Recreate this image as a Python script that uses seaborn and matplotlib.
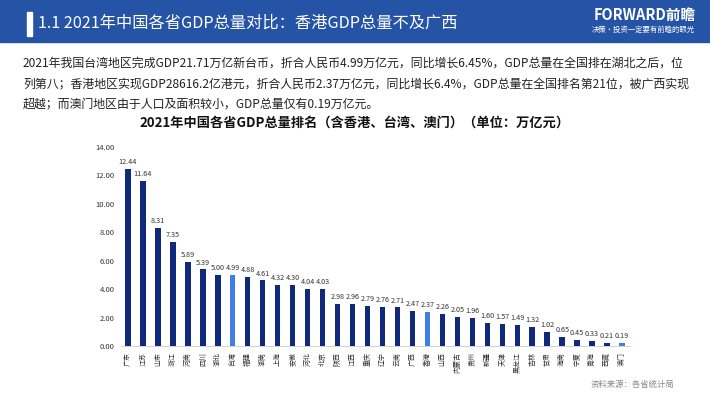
import matplotlib
matplotlib.use("Agg")
import matplotlib.pyplot as plt
import seaborn as sns
import pandas as pd
from matplotlib.patches import Rectangle

provinces = ["广东", "江苏", "山东", "浙江", "河南", "四川", "湖北", "台湾", "福建", "湖南",
             "上海", "安徽", "河北", "北京", "陕西", "江西", "重庆", "辽宁", "云南", "广西",
             "香港", "山西", "内蒙古", "贵州", "新疆", "天津", "黑龙江", "吉林", "甘肃", "海南",
             "宁夏", "青海", "西藏", "澳门"]
gdp = [12.44, 11.64, 8.31, 7.35, 5.89, 5.39, 5.00, 4.99, 4.88, 4.61,
       4.32, 4.30, 4.04, 4.03, 2.98, 2.96, 2.79, 2.76, 2.71, 2.47,
       2.37, 2.26, 2.05, 1.96, 1.60, 1.57, 1.49, 1.32, 1.02, 0.65,
       0.45, 0.33, 0.21, 0.19]
highlight = ["台湾", "香港", "澳门"]
yticks = [0, 2, 4, 6, 8, 10, 12, 14]

sns.set_theme(style="white")
plt.rcParams['font.family'] = ['Noto Sans CJK SC', 'DejaVu Sans']
plt.rcParams['axes.unicode_minus'] = False

dark = "#0f2a7c"
light = "#3f7ee8"
df = pd.DataFrame({"省份": provinces, "GDP": gdp})
df["grp"] = ["hl" if p in highlight else "n" for p in provinces]

fig = plt.figure(figsize=(7.10, 3.99), dpi=100)

# header band
fig.patches.append(Rectangle((0, 1 - 42 / 399), 1, 42 / 399, transform=fig.transFigure,
                             color="#2554a6", zorder=0))
fig.patches.append(Rectangle((27 / 710, 1 - 36 / 399), 5 / 710, 24 / 399, transform=fig.transFigure,
                             color="white", zorder=1))
fig.text(38 / 710, 1 - 23 / 399, "1.1 2021年中国各省GDP总量对比：香港GDP总量不及广西",
         color="white", fontsize=11.7, va="center", ha="left")
fig.text(645 / 710, 1 - 15 / 399, "FORWARD前瞻", color="white", fontsize=10.5,
         fontweight="bold", va="center", ha="center")
fig.text(643 / 710, 1 - 30 / 399, "决策·投资一定要有前瞻的眼光", color="white", fontsize=5.3,
         va="center", ha="center")

para = ["2021年我国台湾地区完成GDP21.71万亿新台币，折合人民币4.99万亿元，同比增长6.45%，GDP总量在全国排在湖北之后，位",
        "列第八；香港地区实现GDP28616.2亿港元，折合人民币2.37万亿元，同比增长6.4%，GDP总量在全国排名第21位，被广西实现",
        "超越；而澳门地区由于人口及面积较小，GDP总量仅有0.19万亿元。"]
for i, line in enumerate(para):
    fig.text(23 / 710, 1 - (63 + i * 21) / 399, line, fontsize=8.6, color="#222222",
             va="center", ha="left")

fig.text(355 / 710, 1 - 123 / 399, "2021年中国各省GDP总量排名（含香港、台湾、澳门）（单位：万亿元）",
         fontsize=9.5, fontweight="bold", color="#111111", va="center", ha="center")

fig.text(632 / 710, 1 - 384 / 399, "资料来源：各省统计局", fontsize=6, color="#888888",
         va="center", ha="center")

ax = fig.add_axes([120.5 / 710, 1 - 346 / 399, 509 / 710, 199 / 399])
sns.barplot(data=df, x="省份", y="GDP", hue="grp", palette={"n": dark, "hl": light},
            width=0.36, dodge=False, legend=False, saturation=1, linewidth=0, ax=ax)
ax.set_ylim(0, 14)
ax.set_xlim(-0.5, len(provinces) - 0.5)
ax.set_yticks(yticks)
ax.set_yticklabels([f"{v:.2f}" for v in yticks], fontsize=5.5, color="#333333")
ax.set_xticks(range(len(provinces)))
ax.set_xticklabels(provinces, rotation=90, fontsize=5, color="#333333")
ax.tick_params(axis="both", length=0, pad=4)
ax.set_xlabel("")
ax.set_ylabel("")
for s in ["top", "right", "left"]:
    ax.spines[s].set_visible(False)
ax.spines["bottom"].set_color("#cccccc")
ax.spines["bottom"].set_linewidth(0.6)
for i, v in enumerate(gdp):
    ax.text(i, v + 0.2, f"{v:.2f}", ha="center", va="bottom", fontsize=5.2, color="#333333")

fig.savefig("out.png", dpi=100)
